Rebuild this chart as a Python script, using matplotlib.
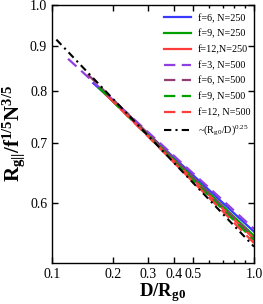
import matplotlib
matplotlib.use('Agg')
from matplotlib import pyplot as plt
from matplotlib.ticker import FixedLocator, FixedFormatter, NullLocator

plt.rcParams['font.family'] = ['Liberation Serif', 'DejaVu Serif']
plt.rcParams['mathtext.default'] = 'regular'

# data (log-log)
x_b6 = [0.16, 0.2, 0.3, 0.5, 0.7, 1.0]
y_b6 = [0.817, 0.781, 0.717, 0.645, 0.601, 0.558]
x_g9 = [0.17, 0.2, 0.3, 0.5, 0.7, 1.0]
y_g9 = [0.808, 0.780, 0.715, 0.641, 0.596, 0.552]
x_r12 = [0.18, 0.2, 0.3, 0.5, 0.7, 1.0]
y_r12 = [0.798, 0.780, 0.713, 0.638, 0.592, 0.548]
x_p3 = [0.12, 0.2, 0.3, 0.5, 0.7, 1.0]
y_p3 = [0.870, 0.783, 0.720, 0.648, 0.605, 0.562]
x_m6 = [0.15, 0.2, 0.3, 0.5, 0.7, 1.0]
y_m6 = [0.836, 0.784, 0.717, 0.641, 0.595, 0.550]
x_g9d = [0.17, 0.2, 0.3, 0.5, 0.7, 1.0]
y_g9d = [0.809, 0.780, 0.713, 0.637, 0.591, 0.546]
x_r12d = [0.19, 0.2, 0.3, 0.5, 0.7, 1.0]
y_r12d = [0.789, 0.780, 0.712, 0.634, 0.588, 0.542]
x_fit = [0.105, 1.0]
y_fit = [0.914, 0.537]

xticks = [0.1, 0.2, 0.3, 0.4, 0.5, 1.0]
xlabels = ['0.1', '0.2', '0.3', '0.4', '0.5', '1.0']
xminor = [0.6, 0.7, 0.8, 0.9]
yticks = [0.6, 0.7, 0.8, 0.9, 1.0]
ylabels = ['0.6', '0.7', '0.8', '0.9', '1.0']

fig = plt.figure(figsize=(2.63, 3.04), dpi=100)
ax = fig.add_axes([0.198, 0.135, 0.768, 0.850])

dsh = (5.1, 2.9)
ax.plot(x_b6, y_b6, color='#3a3aff', lw=1.6, label='f=6, N=250')
ax.plot(x_g9, y_g9, color='#00a000', lw=1.6, label='f=9, N=250')
ax.plot(x_r12, y_r12, color='#ff3c3c', lw=1.6, label='f=12,N=250')
ax.plot(x_p3, y_p3, color='#9040e0', lw=1.6, dashes=dsh, label='f=3, N=500')
ax.plot(x_m6, y_m6, color='#904070', lw=1.6, dashes=dsh, label='f=6, N=500')
ax.plot(x_g9d, y_g9d, color='#00a000', lw=1.6, dashes=dsh, label='f=9, N=500')
ax.plot(x_r12d, y_r12d, color='#ff3c3c', lw=1.6, dashes=dsh, label='f=12, N=500')
ax.plot(x_fit, y_fit, color='black', lw=1.5, dashes=(3.5, 2, 1, 2),
        label=r'~(R$_{g0}$/D)$^{0.25}$')

ax.set_xscale('log')
ax.set_yscale('log')
ax.set_xlim(0.1, 1.0)
ax.set_ylim(0.515, 1.0)

ax.xaxis.set_major_locator(FixedLocator(xticks))
ax.xaxis.set_major_formatter(FixedFormatter(xlabels))
ax.xaxis.set_minor_locator(FixedLocator(xminor))
ax.xaxis.set_minor_formatter(FixedFormatter([]))
ax.yaxis.set_major_locator(FixedLocator(yticks))
ax.yaxis.set_major_formatter(FixedFormatter(ylabels))
ax.yaxis.set_minor_locator(NullLocator())

ax.tick_params(which='both', direction='in', top=True, right=True, labelsize=10, width=1)
ax.tick_params(which='major', length=4)
ax.tick_params(which='minor', length=2.5)
for s in ax.spines.values():
    s.set_linewidth(1.0)

ax.set_xlabel(r'D/R$_{g0}$', fontsize=13.5, fontweight='bold', labelpad=1)
ax.xaxis.set_label_coords(0.545, -0.07)
ax.set_ylabel(r'R$_{g||}$/f$^{1/5}$N$^{3/5}$', fontsize=15, fontweight='bold', labelpad=2)

ax.legend(loc='upper left', bbox_to_anchor=(0.53, 0.985), frameon=False, fontsize=7.3,
          borderpad=0, labelspacing=0.62, handlelength=2.6, handletextpad=0.75)

fig.savefig('out.png', dpi=100)
